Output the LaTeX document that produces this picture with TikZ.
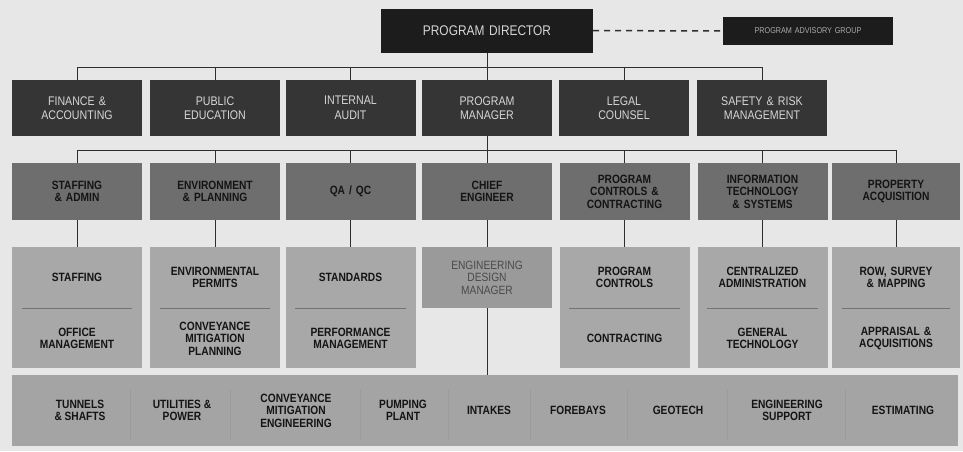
\documentclass[tikz,border=0pt]{standalone}
\usepackage{fontspec}
\setmainfont{Liberation Sans}[FakeStretch=0.85]
\usetikzlibrary{positioning}

\definecolor{paper}{HTML}{E7E7E7}
\definecolor{dirfill}{HTML}{1C1C1C}
\definecolor{deptfill}{HTML}{353535}
\definecolor{unitfill}{HTML}{6E6E6E}
\definecolor{teamfill}{HTML}{A8A8A8}
\definecolor{edmfill}{HTML}{9A9A9A}
\definecolor{edmtext}{HTML}{4A4A4A}
\definecolor{barfill}{HTML}{A4A4A4}
\definecolor{lighttext}{HTML}{D6D6D6}
\definecolor{darktext}{HTML}{141414}
\definecolor{linkgray}{HTML}{2E2E2E}

\tikzset{
    box/.style={inner sep=2pt, align=center, minimum width=130pt, text width=112pt},
    director/.style={box, fill=dirfill, text=lighttext, minimum width=212pt, text width=190pt, minimum height=44pt, font=\fontsize{14}{16}\selectfont},
    advisory/.style={box, fill=dirfill, text=lighttext!80!black, minimum width=170pt, text width=160pt, minimum height=28pt, font=\fontsize{8.5}{10}\selectfont},
    dept/.style={box, fill=deptfill, text=lighttext, minimum height=56pt, font=\fontsize{12.5}{14.5}\selectfont},
    unit/.style={box, fill=unitfill, text=darktext, minimum height=57pt, font=\bfseries\fontsize{12}{12.5}\selectfont},
    team/.style={box, fill=teamfill, text=darktext, minimum height=61pt, font=\bfseries\fontsize{12}{12.5}\selectfont},
    teamlow/.style={team, minimum height=60pt},
    edm/.style={box, fill=edmfill, text=edmtext, minimum height=61pt, font=\fontsize{12}{12.5}\selectfont},
    bar/.style={fill=barfill, minimum width=946pt, minimum height=71pt, inner sep=0pt},
    barlabel/.style={align=center, text=darktext, inner sep=1pt, font=\bfseries\fontsize{12}{12.5}\selectfont},
    link/.style={draw=linkgray, line width=1pt},
    divider/.style={draw=black!55, line width=0.8pt},
    sep/.style={draw=black!40, line width=0.7pt, dash pattern=on 3pt off 1pt}
}

\begin{document}
\begin{tikzpicture}[x=1pt, y=-1pt]
    \useasboundingbox[fill=paper] (0,0) rectangle (963,451);

    % Draw nodes
    \node[director] (dir) at (487,30.5) {PROGRAM DIRECTOR};
    \node[advisory] (adv) at (808,31) {PROGRAM ADVISORY GROUP};

    \node[dept] (d1) at (77,108) {FINANCE \&\\ACCOUNTING};
    \node[dept] (d2) at (215,108) {PUBLIC\\EDUCATION};
    \node[dept] (d3) at (350.5,108) {INTERNAL\\AUDIT};
    \node[dept] (d4) at (487,108) {PROGRAM\\MANAGER};
    \node[dept] (d5) at (624,108) {LEGAL\\COUNSEL};
    \node[dept] (d6) at (762,108) {SAFETY \& RISK\\MANAGEMENT};

    \node[unit] (u1) at (77,191.5) {STAFFING\\\& ADMIN};
    \node[unit] (u2) at (215,191.5) {ENVIRONMENT\\\& PLANNING};
    \node[unit] (u3) at (350.5,191.5) {QA / QC};
    \node[unit] (u4) at (487,191.5) {CHIEF\\ENGINEER};
    \node[unit] (u5) at (624.5,191.5) {PROGRAM\\CONTROLS \&\\CONTRACTING};
    \node[unit] (u6) at (762.5,191.5) {INFORMATION\\TECHNOLOGY\\\& SYSTEMS};
    \node[unit, minimum width=128pt] (u7) at (896,191.5) {PROPERTY\\ACQUISITION};

    \node[team] (t1a) at (77,277.5) {STAFFING};
    \node[teamlow, below=0pt of t1a] (t1b) {OFFICE\\MANAGEMENT};
    \node[team] (t2a) at (215,277.5) {ENVIRONMENTAL\\PERMITS};
    \node[teamlow, below=0pt of t2a] (t2b) {CONVEYANCE\\MITIGATION\\PLANNING};
    \node[team] (t3a) at (350.5,277.5) {STANDARDS};
    \node[teamlow, below=0pt of t3a] (t3b) {PERFORMANCE\\MANAGEMENT};
    \node[edm] (edm) at (487,277.5) {ENGINEERING\\DESIGN\\MANAGER};
    \node[team] (t5a) at (624.5,277.5) {PROGRAM\\CONTROLS};
    \node[teamlow, below=0pt of t5a] (t5b) {CONTRACTING};
    \node[team] (t6a) at (762.5,277.5) {CENTRALIZED\\ADMINISTRATION};
    \node[teamlow, below=0pt of t6a] (t6b) {GENERAL\\TECHNOLOGY};
    \node[team, minimum width=128pt] (t7a) at (896,277.5) {ROW, SURVEY\\\& MAPPING};
    \node[teamlow, minimum width=128pt, below=0pt of t7a] (t7b) {APPRAISAL \&\\ACQUISITIONS};

    \node[bar] (bar) at (485,410.5) {};
    \node[barlabel] (b1) at (80,410.5) {TUNNELS\\\& SHAFTS};
    \node[barlabel] (b2) at (182,410.5) {UTILITIES \&\\POWER};
    \node[barlabel] (b3) at (296,410.5) {CONVEYANCE\\MITIGATION\\ENGINEERING};
    \node[barlabel] (b4) at (403,410.5) {PUMPING\\PLANT};
    \node[barlabel] (b5) at (489,410.5) {INTAKES};
    \node[barlabel] (b6) at (578,410.5) {FOREBAYS};
    \node[barlabel] (b7) at (678,410.5) {GEOTECH};
    \node[barlabel] (b8) at (787,410.5) {ENGINEERING\\SUPPORT};
    \node[barlabel] (b9) at (903,410.5) {ESTIMATING};

    % Draw dividers
    \draw[divider] ([xshift=10pt]t1a.south west) -- ([xshift=-10pt]t1a.south east);
    \draw[divider] ([xshift=10pt]t2a.south west) -- ([xshift=-10pt]t2a.south east);
    \draw[divider] ([xshift=10pt]t3a.south west) -- ([xshift=-10pt]t3a.south east);
    \draw[divider] ([xshift=10pt]t5a.south west) -- ([xshift=-10pt]t5a.south east);
    \draw[divider] ([xshift=10pt]t6a.south west) -- ([xshift=-10pt]t6a.south east);
    \draw[divider] ([xshift=10pt]t7a.south west) -- ([xshift=-10pt]t7a.south east);

    \draw[sep] (130,390) -- (130,440);
    \draw[sep] (230,390) -- (230,440);
    \draw[sep] (360,390) -- (360,440);
    \draw[sep] (448,390) -- (448,440);
    \draw[sep] (530,390) -- (530,440);
    \draw[sep] (627,390) -- (627,440);
    \draw[sep] (727,390) -- (727,440);
    \draw[sep] (845,390) -- (845,440);

    % Draw connections
    \draw[link, line width=1.5pt, dash pattern=on 6pt off 5pt] (dir) -- (adv);

    \coordinate (bus1) at (487,67);
    \draw[link] (dir) -- (bus1);
    \draw[link] (bus1) -| (d1.north);
    \draw[link] (bus1) -| (d2.north);
    \draw[link] (bus1) -| (d3.north);
    \draw[link] (bus1) -- (d4.north);
    \draw[link] (bus1) -| (d5.north);
    \draw[link] (bus1) -| (d6.north);

    \coordinate (bus2) at (487,150);
    \draw[link] (d4) -- (bus2);
    \draw[link] (bus2) -| (u1.north);
    \draw[link] (bus2) -| (u2.north);
    \draw[link] (bus2) -| (u3.north);
    \draw[link] (bus2) -- (u4.north);
    \draw[link] (bus2) -| (u5.north);
    \draw[link] (bus2) -| (u6.north);
    \draw[link] (bus2) -| (u7.north);

    \draw[link] (u1) -- (t1a);
    \draw[link] (u2) -- (t2a);
    \draw[link] (u3) -- (t3a);
    \draw[link] (u4) -- (edm);
    \draw[link] (u5) -- (t5a);
    \draw[link] (u6) -- (t6a);
    \draw[link] (u7) -- (t7a);
    \draw[link] (edm.south) -- (edm.south |- bar.north);
\end{tikzpicture}
\end{document}
